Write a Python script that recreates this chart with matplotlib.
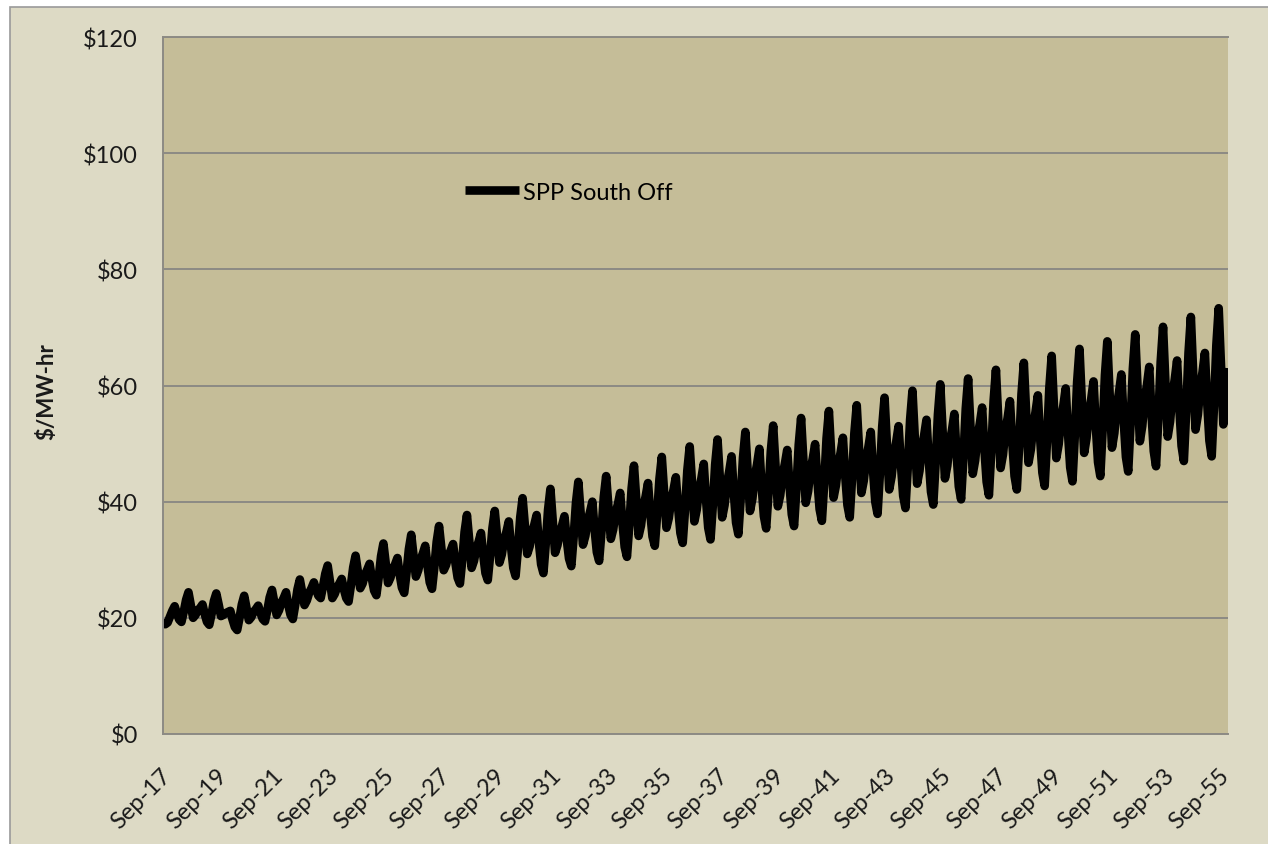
import matplotlib
matplotlib.use('Agg')
import matplotlib.pyplot as plt
import matplotlib.transforms as mtransforms
import pandas as pd
from matplotlib.patches import Rectangle

# SPP South off-peak price, $/MW-hr, monthly from Sep-2017
start_prices = [19.4, 18.9, 19.2, 20.2]  # Sep..Dec 2017
yearly_prices = [
    # Jan   Feb   Mar   Apr   May   Jun   Jul   Aug   Sep   Oct   Nov   Dec
    [21.2, 22.0, 20.8, 19.7, 19.3, 21.1, 23.1, 24.4, 22.2, 20.0, 20.5, 21.3],  # 2018
    [21.7, 22.3, 20.7, 19.3, 18.8, 20.7, 22.9, 24.2, 22.3, 20.3, 20.5, 20.8],  # 2019
    [21.0, 21.2, 19.7, 18.4, 17.9, 20.0, 22.3, 23.8, 21.7, 19.6, 20.1, 21.0],  # 2020
    [21.5, 22.1, 20.9, 19.8, 19.4, 21.3, 23.5, 24.8, 22.6, 20.5, 21.3, 22.6],  # 2021
    [23.4, 24.4, 22.3, 20.5, 19.8, 22.2, 24.9, 26.6, 24.4, 22.2, 23.0, 24.3],  # 2022
    [25.1, 26.1, 24.9, 23.8, 23.4, 25.4, 27.6, 29.0, 26.2, 23.4, 24.1, 25.2],  # 2023
    [25.9, 26.7, 24.9, 23.4, 22.8, 25.6, 28.7, 30.7, 27.9, 25.1, 25.9, 27.4],  # 2024
    [28.3, 29.3, 26.9, 24.7, 23.9, 27.0, 30.6, 32.8, 29.4, 26.0, 26.9, 28.4],  # 2025
    [29.2, 30.3, 27.6, 25.2, 24.3, 27.8, 31.8, 34.3, 30.7, 27.1, 28.2, 30.0],  # 2026
    [31.1, 32.4, 29.1, 26.1, 25.0, 28.8, 33.1, 35.8, 32.0, 28.2, 29.1, 30.7],  # 2027
    [31.6, 32.7, 29.6, 26.9, 25.9, 30.0, 34.8, 37.7, 33.2, 28.6, 29.8, 31.9],  # 2028
    [33.1, 34.6, 31.0, 27.7, 26.5, 30.7, 35.4, 38.4, 34.0, 29.5, 30.9, 33.4],  # 2029
    [34.8, 36.6, 32.4, 28.6, 27.2, 31.9, 37.3, 40.6, 35.8, 31.0, 32.3, 34.7],  # 2030
    [36.0, 37.7, 33.2, 29.2, 27.7, 32.8, 38.6, 42.2, 36.7, 31.2, 32.5, 34.7],  # 2031
    [35.9, 37.5, 33.6, 30.2, 28.9, 34.0, 39.8, 43.4, 38.0, 32.6, 34.1, 36.7],  # 2032
    [38.2, 40.0, 35.4, 31.3, 29.8, 34.9, 40.8, 44.4, 39.0, 33.6, 35.2, 38.0],  # 2033
    [39.5, 41.5, 36.6, 32.2, 30.5, 36.0, 42.3, 46.2, 40.2, 34.1, 35.9, 39.1],  # 2034
    [40.9, 43.2, 38.3, 34.0, 32.4, 37.8, 43.9, 47.7, 41.6, 35.5, 37.2, 40.3],  # 2035
    [42.0, 44.2, 39.1, 34.6, 32.9, 38.7, 45.4, 49.5, 43.1, 36.6, 38.6, 42.0],  # 2036
    [44.0, 46.5, 40.7, 35.5, 33.5, 39.5, 46.4, 50.7, 44.0, 37.3, 39.4, 43.0],  # 2037
    [45.2, 47.8, 41.8, 36.4, 34.4, 40.6, 47.6, 52.0, 45.2, 38.4, 40.5, 44.2],  # 2038
    [46.4, 49.1, 42.9, 37.5, 35.4, 41.6, 48.7, 53.1, 46.2, 39.2, 41.1, 44.5],  # 2039
    [46.5, 48.9, 43.0, 37.8, 35.8, 42.3, 49.8, 54.4, 47.1, 39.8, 41.8, 45.4],  # 2040
    [47.4, 49.9, 44.0, 38.7, 36.7, 43.3, 50.9, 55.6, 48.2, 40.7, 42.8, 46.4],  # 2041
    [48.4, 51.0, 44.8, 39.4, 37.3, 44.1, 51.8, 56.6, 49.0, 41.5, 43.6, 47.3],  # 2042
    [49.4, 52.0, 45.7, 40.0, 37.9, 44.9, 52.9, 57.9, 50.0, 42.1, 44.3, 48.1],  # 2043
    [50.3, 53.0, 46.7, 41.0, 38.9, 46.0, 54.1, 59.1, 51.1, 43.1, 45.3, 49.1],  # 2044
    [51.4, 54.1, 47.5, 41.7, 39.5, 46.7, 55.0, 60.2, 52.1, 44.0, 46.2, 50.1],  # 2045
    [52.3, 55.1, 48.5, 42.6, 40.4, 47.7, 56.0, 61.2, 53.0, 44.8, 47.1, 51.1],  # 2046
    [53.4, 56.2, 49.4, 43.4, 41.1, 48.7, 57.3, 62.7, 54.3, 45.8, 48.1, 52.1],  # 2047
    [54.4, 57.3, 50.5, 44.4, 42.1, 49.7, 58.5, 63.9, 55.3, 46.7, 49.0, 53.1],  # 2048
    [55.4, 58.3, 51.3, 45.0, 42.7, 50.5, 59.5, 65.1, 56.3, 47.5, 49.9, 54.1],  # 2049
    [56.5, 59.5, 52.3, 45.9, 43.5, 51.5, 60.6, 66.3, 57.4, 48.4, 50.9, 55.2],  # 2050
    [57.6, 60.7, 53.4, 46.8, 44.4, 52.5, 61.8, 67.6, 58.5, 49.3, 51.8, 56.2],  # 2051
    [58.8, 61.9, 54.4, 47.7, 45.2, 53.5, 62.9, 68.8, 59.6, 50.4, 53.0, 57.4],  # 2052
    [60.0, 63.2, 55.5, 48.7, 46.1, 54.5, 64.1, 70.1, 60.7, 51.2, 53.8, 58.4],  # 2053
    [61.0, 64.3, 56.5, 49.6, 47.0, 55.7, 65.6, 71.8, 62.1, 52.4, 55.0, 59.7],  # 2054
    [62.3, 65.6, 57.6, 50.5, 47.8, 56.7, 66.9, 73.3, 63.3, 53.3, 56.0, 63.0],  # 2055
]
y_ticks = [0, 20, 40, 60, 80, 100, 120]
y_tick_labels = ['$0', '$20', '$40', '$60', '$80', '$100', '$120']
x_tick_labels = ['Sep-17', 'Sep-19', 'Sep-21', 'Sep-23', 'Sep-25', 'Sep-27', 'Sep-29',
                 'Sep-31', 'Sep-33', 'Sep-35', 'Sep-37', 'Sep-39', 'Sep-41', 'Sep-43',
                 'Sep-45', 'Sep-47', 'Sep-49', 'Sep-51', 'Sep-53', 'Sep-55']
series_name = 'SPP South Off'

OUTER_BG = '#dddac5'
PLOT_BG = '#c5bd98'
GRID = '#8c8a84'

prices = list(start_prices)
for row in yearly_prices:
    prices.extend(row)
months = pd.date_range('2017-09-01', periods=len(prices), freq='MS')
tick_dates = months[::24][:len(x_tick_labels)]

plt.rcParams['font.family'] = ['Lato', 'DejaVu Sans']

W, H = 1268, 845
fig = plt.figure(figsize=(W / 100, H / 100), dpi=100)
fig.patch.set_facecolor('white')
fig.patches.append(Rectangle((10 / W, -0.05), 1, 1.05 - 8 / H, transform=fig.transFigure,
                             facecolor=OUTER_BG, edgecolor='#9a9a9a', linewidth=1.2, zorder=-1))

ax = fig.add_axes([163 / W, 1 - 735 / H, (1228 - 163) / W, (735 - 38) / H])
ax.set_facecolor(PLOT_BG)
ax.plot(months, prices, color='black', linewidth=6.2, solid_joinstyle='round',
        solid_capstyle='butt', label=series_name)

ax.set_xlim(months[0], months[-1])
ax.set_ylim(0, 120)
ax.set_yticks(y_ticks)
ax.set_yticklabels(y_tick_labels)
ax.set_xticks(tick_dates)
ax.set_xticklabels(x_tick_labels, rotation=45, ha='right', va='center', rotation_mode='anchor')
ax.tick_params(axis='y', length=0, pad=18, labelsize=17, labelcolor='#1a1a1a')
ax.tick_params(axis='x', length=0, pad=27, labelsize=17, labelcolor='#1a1a1a')
shift = mtransforms.ScaledTranslation(5 / 100, 0, fig.dpi_scale_trans)
for label in ax.get_xticklabels():
    label.set_transform(label.get_transform() + shift)
ax.grid(axis='y', color=GRID, linewidth=1.4)
ax.set_axisbelow(True)
for side in ['left', 'bottom']:
    ax.spines[side].set_color(GRID)
    ax.spines[side].set_linewidth(1.4)
ax.spines['right'].set_visible(False)
ax.spines['top'].set_color(GRID)
ax.spines['top'].set_linewidth(1.4)

fig.text(47 / W, 1 - 392 / H, '$/MW-hr', rotation=90, ha='center', va='center',
         fontsize=16, fontweight='bold', color='#1a1a1a')

ax.legend(loc='center left', bbox_to_anchor=(465 / W, 1 - 193 / H), bbox_transform=fig.transFigure,
          frameon=False, fontsize=17, handlelength=2.3, handletextpad=0.15, borderpad=0,
          borderaxespad=0)

fig.savefig('out.png', dpi=100, facecolor=fig.get_facecolor())
